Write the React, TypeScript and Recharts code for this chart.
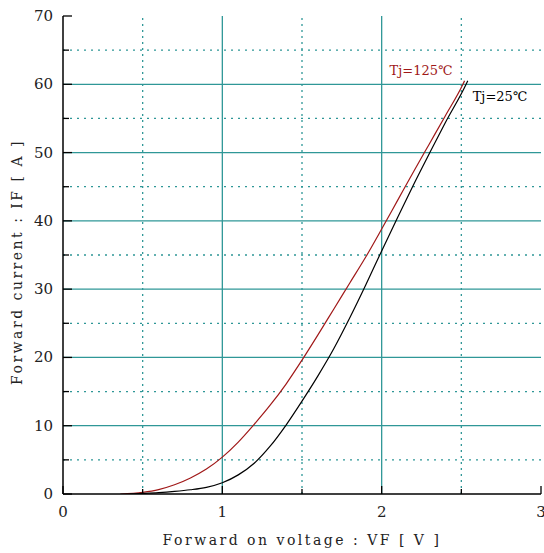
import React from "react";
import { LineChart, Line, XAxis, YAxis, ReferenceLine } from "recharts";

// Forward characteristics
const vf125 = [0.36, 0.5, 0.6, 0.7, 0.8, 0.9, 1.0, 1.1, 1.2, 1.3, 1.4, 1.5, 1.6, 1.7, 1.8, 1.9, 2.0, 2.1, 2.2, 2.3, 2.4, 2.51, 2.52];
const if125 = [0, 0.25, 0.65, 1.35, 2.35, 3.65, 5.4, 7.6, 10.2, 13.0, 16.1, 19.6, 23.3, 27.1, 30.9, 34.7, 38.8, 43.0, 47.2, 51.3, 55.4, 60, 60.5];
const vf25 = [0.42, 0.5, 0.6, 0.7, 0.8, 0.9, 1.0, 1.1, 1.2, 1.3, 1.4, 1.5, 1.6, 1.7, 1.8, 1.9, 2.0, 2.1, 2.2, 2.3, 2.4, 2.53, 2.54];
const if25 = [0, 0.08, 0.2, 0.38, 0.62, 0.98, 1.65, 2.8, 4.5, 7.0, 10.1, 13.6, 17.3, 21.3, 25.8, 30.6, 35.6, 40.5, 45.3, 49.9, 54.4, 60, 60.5];

const xTicks = [0, 0.5, 1, 1.5, 2, 2.5, 3];
const yTicks = [0, 5, 10, 15, 20, 25, 30, 35, 40, 45, 50, 55, 60, 65, 70];
const xMajorGrid = [1, 2];
const xMinorGrid = [0.5, 1.5, 2.5];
const yMajorGrid = [10, 20, 30, 40, 50, 60];
const yMinorGrid = [5, 15, 25, 35, 45, 55, 65];

const hot = vf125.map((v, i) => ({ vf: v, current: if125[i] }));
const cold = vf25.map((v, i) => ({ vf: v, current: if25[i] }));

const TEAL = "#2f9797";
const RED = "#a01818";
const serif = "DejaVu Serif";

const isMajor = (v: number, step: number) => Math.abs(v / step - Math.round(v / step)) < 1e-6;

const BottomTick = (p: any) => {
  const major = isMajor(p.payload.value, 1);
  return (
    <g>
      <line x1={p.x} x2={p.x} y1={p.y} y2={p.y - (major ? 8 : 5)} stroke="#000" strokeWidth={1.3} />
      {major && (
        <text x={p.x} y={p.y + 23} textAnchor="middle" fontFamily={serif} fontSize={15} fill="#222">
          {p.payload.value}
        </text>
      )}
    </g>
  );
};

const TopTick = (p: any) => {
  const major = isMajor(p.payload.value, 1);
  return <line x1={p.x} x2={p.x} y1={p.y} y2={p.y + (major ? 8 : 5)} stroke="#000" strokeWidth={1.3} />;
};

const LeftTick = (p: any) => {
  const major = isMajor(p.payload.value, 10);
  return (
    <g>
      <line x1={p.x} x2={p.x + (major ? 9 : 6)} y1={p.y} y2={p.y} stroke="#000" strokeWidth={1.3} />
      {major && (
        <text x={p.x - 10} y={p.y + 5} textAnchor="end" fontFamily={serif} fontSize={15} fill="#222">
          {p.payload.value}
        </text>
      )}
    </g>
  );
};

const RightTick = (p: any) => {
  const major = isMajor(p.payload.value, 10);
  return <line x1={p.x} x2={p.x - (major ? 9 : 6)} y1={p.y} y2={p.y} stroke="#000" strokeWidth={1.3} />;
};

const endLabel = (n: number, text: string, color: string, dx: number, dy: number, anchor: string) => (p: any) => {
  if (p.index !== n - 1) return null;
  return (
    <text x={p.x + dx} y={p.y + dy} textAnchor={anchor} fontFamily={serif} fontSize={13} fill={color}>
      {text}
    </text>
  );
};

export default function App() {
  return (
    <div style={{ position: "absolute", left: 0, top: 0, width: 544, height: 553, background: "#fff" }}>
      <LineChart width={544} height={553} margin={{ top: 16, right: 3, left: 23, bottom: 29 }}>
        <XAxis
          xAxisId={0}
          dataKey="vf"
          type="number"
          domain={[0, 3]}
          ticks={xTicks}
          interval={0}
          allowDataOverflow
          height={30}
          tickSize={0}
          tickMargin={0}
          tick={BottomTick}
          axisLine={{ stroke: "#000", strokeWidth: 1.5 }}
          label={{
            content: () => (
              <text x={302} y={545} textAnchor="middle" fontFamily={serif} fontSize={14} letterSpacing={2.5} fill="#222">
                Forward on voltage :  VF  [ V ]
              </text>
            ),
          }}
        />
        <XAxis
          xAxisId="top"
          orientation="top"
          dataKey="vf"
          type="number"
          domain={[0, 3]}
          ticks={xTicks}
          interval={0}
          allowDataOverflow
          height={0}
          tickSize={0}
          tickMargin={0}
          tick={TopTick}
          axisLine={{ stroke: "#000", strokeWidth: 1.5 }}
        />
        <YAxis
          yAxisId={0}
          type="number"
          domain={[0, 70]}
          ticks={yTicks}
          interval={0}
          allowDataOverflow
          width={40}
          tickSize={0}
          tickMargin={0}
          tick={LeftTick}
          axisLine={{ stroke: "#000", strokeWidth: 1.5 }}
          label={{
            content: () => (
              <text
                x={22}
                y={262}
                transform="rotate(-90 22 262)"
                textAnchor="middle"
                fontFamily={serif}
                fontSize={14}
                letterSpacing={2.5}
                fill="#222"
              >
                Forward current :  IF  [ A ]
              </text>
            ),
          }}
        />
        <YAxis
          yAxisId="right"
          orientation="right"
          type="number"
          domain={[0, 70]}
          ticks={yTicks}
          interval={0}
          allowDataOverflow
          width={0}
          tickSize={0}
          tickMargin={0}
          tick={RightTick}
          axisLine={{ stroke: "#000", strokeWidth: 1.5 }}
        />
        {yMinorGrid.map((v) => (
          <ReferenceLine key={"ym" + v} y={v} stroke={TEAL} strokeWidth={1.3} strokeDasharray="2 5" />
        ))}
        {xMinorGrid.map((v) => (
          <ReferenceLine key={"xm" + v} x={v} stroke={TEAL} strokeWidth={1.3} strokeDasharray="2 4" />
        ))}
        {yMajorGrid.map((v) => (
          <ReferenceLine key={"yM" + v} y={v} stroke={TEAL} strokeWidth={1.3} />
        ))}
        {xMajorGrid.map((v) => (
          <ReferenceLine key={"xM" + v} x={v} stroke={TEAL} strokeWidth={1.3} />
        ))}
        <Line
          data={hot}
          dataKey="current"
          type="monotone"
          stroke={RED}
          strokeWidth={1.2}
          dot={false}
          isAnimationActive={false}
          label={endLabel(hot.length, "Tj=125℃", RED, -12, -6, "end")}
        />
        <Line
          data={cold}
          dataKey="current"
          type="monotone"
          stroke="#000"
          strokeWidth={1.2}
          dot={false}
          isAnimationActive={false}
          label={endLabel(cold.length, "Tj=25℃", "#000", 5, 20, "start")}
        />
      </LineChart>
    </div>
  );
}
